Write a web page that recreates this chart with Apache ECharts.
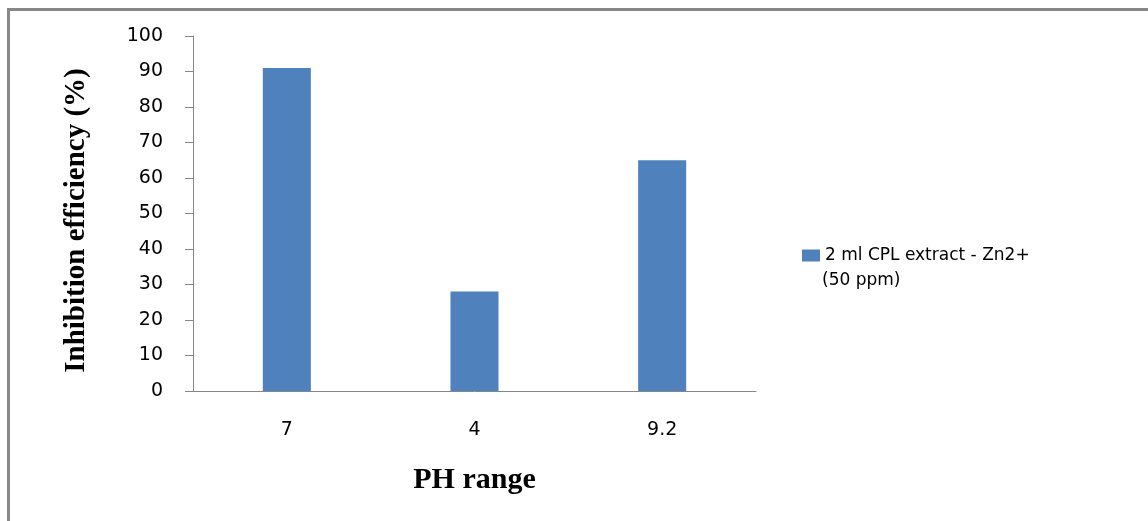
<!DOCTYPE html>
<html>
<head>
<meta charset="utf-8">
<script src="https://cdn.jsdelivr.net/npm/echarts@6/dist/echarts.min.js"></script>
<style>html,body{margin:0;padding:0;background:#fff}#c{width:1148px;height:521px}</style>
</head>
<body>
<div id="c"></div>
<script>
const categories = ['7', '4', '9.2'];
const values = [91, 28, 65];
const seriesName = '2 ml CPL extract - Zn2+ (50 ppm)';
const legendLine1 = '2 ml CPL extract - Zn2+';
const legendLine2 = '(50 ppm)';
const yTicks = [0, 10, 20, 30, 40, 50, 60, 70, 80, 90, 100];
const xTitle = 'PH range';
const yTitle = 'Inhibition efficiency (%)';

const chart = echarts.init(document.getElementById('c'), null, {renderer: 'canvas'});
chart.setOption({
  animation: false,
  backgroundColor: '#fff',
  grid: {left: 193, right: 392, top: 36, bottom: 130, containLabel: false},
  legend: {
    orient: 'vertical',
    left: 797,
    top: 242,
    itemWidth: 18,
    itemHeight: 12,
    icon: 'rect',
    data: [seriesName],
    formatter: function () { return legendLine1; },
    textStyle: {fontFamily: 'DejaVu Sans', fontSize: 17, color: '#000'}
  },
  graphic: [
    {type: 'rect', silent: true, shape: {x: 8.5, y: 9.5, width: 1300, height: 700},
     style: {fill: 'none', stroke: '#888888', lineWidth: 3}},
    {type: 'text', left: 822, top: 272, silent: true,
     style: {text: legendLine2, font: '17px "DejaVu Sans"', fill: '#000'}}
  ],
  xAxis: {
    type: 'category',
    data: categories,
    axisLine: {show: true, lineStyle: {color: '#868686', width: 1}},
    axisTick: {show: false},
    axisLabel: {fontFamily: 'DejaVu Sans', fontSize: 19, color: '#000', margin: 30},
    name: xTitle,
    nameLocation: 'middle',
    nameGap: 74,
    nameTextStyle: {fontFamily: 'Liberation Serif', fontWeight: 'bold', fontSize: 30, color: '#000'}
  },
  yAxis: {
    type: 'value',
    min: yTicks[0],
    max: yTicks[yTicks.length - 1],
    interval: yTicks[1] - yTicks[0],
    axisLine: {show: true, lineStyle: {color: '#868686', width: 1}},
    axisTick: {show: true, inside: false, length: 8, lineStyle: {color: '#868686'}},
    splitLine: {show: false},
    axisLabel: {fontFamily: 'DejaVu Sans', fontSize: 19, color: '#000', margin: 30},
    name: yTitle,
    nameLocation: 'middle',
    nameRotate: 90,
    nameGap: 102,
    nameTextStyle: {fontFamily: 'Liberation Serif', fontWeight: 'bold', fontSize: 29, color: '#000', padding: [0, 14, 0, 0]}
  },
  series: [{
    name: seriesName,
    type: 'bar',
    data: values,
    barWidth: '25.6%',
    itemStyle: {color: '#4F81BD'}
  }]
});
</script>
</body>
</html>
